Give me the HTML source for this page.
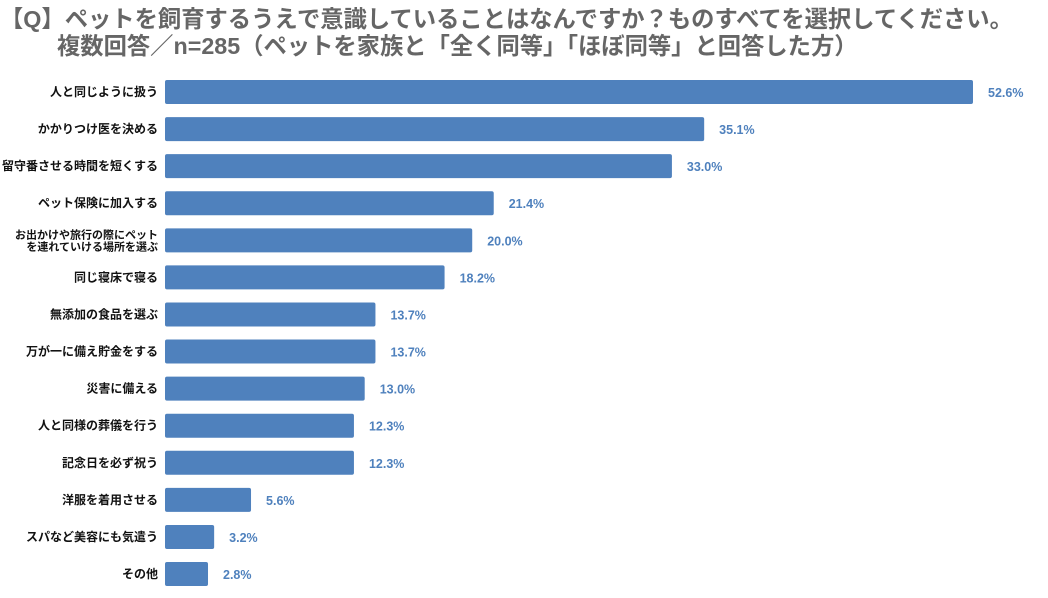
<!DOCTYPE html>
<html><head><meta charset="utf-8"><style>
body{margin:0;background:#fff;width:1048px;height:598px;overflow:hidden;font-family:"Liberation Sans","Noto Sans CJK JP",sans-serif;}
.t{position:absolute;color:#666;font-weight:bold;font-size:23.3px;white-space:nowrap;line-height:26px;}
</style></head><body>
<div class="t" style="left:0;top:6px">【Q】ペットを飼育するうえで意識していることはなんですか？ものすべてを選択してください。</div>
<div class="t" style="left:57px;top:33px">複数回答／n=285（ペットを家族と「全く同等」「ほぼ同等」と回答した方）</div>
<svg id="c" width="1048" height="598" style="position:absolute;left:0;top:0"></svg>
<script>
const categories=["人と同じように扱う","かかりつけ医を決める","留守番させる時間を短くする","ペット保険に加入する","お出かけや旅行の際にペット\nを連れていける場所を選ぶ","同じ寝床で寝る","無添加の食品を選ぶ","万が一に備え貯金をする","災害に備える","人と同様の葬儀を行う","記念日を必ず祝う","洋服を着用させる","スパなど美容にも気遣う","その他"];
const values=[52.6,35.1,33.0,21.4,20.0,18.2,13.7,13.7,13.0,12.3,12.3,5.6,3.2,2.8];
const svg=document.getElementById('c');const NS='http://www.w3.org/2000/svg';
const x0=165,scale=(973-165)/52.6,y0=92,step=37.08,bh=24;
const xs=v=>x0+v*scale, ys=i=>y0+i*step;
function mk(t,a){const e=document.createElementNS(NS,t);for(const k in a)e.setAttribute(k,a[k]);svg.appendChild(e);return e;}
categories.forEach((c,i)=>{
 const cy=ys(i);
 const r=mk('rect',{x:x0,y:cy-bh/2,width:xs(values[i])-x0,height:bh,fill:'#4f81bd',rx:2});
 
 
 const lines=c.split('\n');
 lines.forEach((ln,j)=>{
  const t=mk('text',{x:158,y:cy+4+(j-(lines.length-1)/2)*12,'text-anchor':'end','font-size':lines.length>1?11:12,'font-weight':'bold',fill:'#111'});
  t.textContent=ln;
  
  
 });
 const v=mk('text',{x:xs(values[i])+15,y:cy+5,'font-size':12.5,'font-weight':'bold',fill:'#4f81bd'});
 v.textContent=values[i].toFixed(1)+'%';
 
 
});
</script>
</body></html>
